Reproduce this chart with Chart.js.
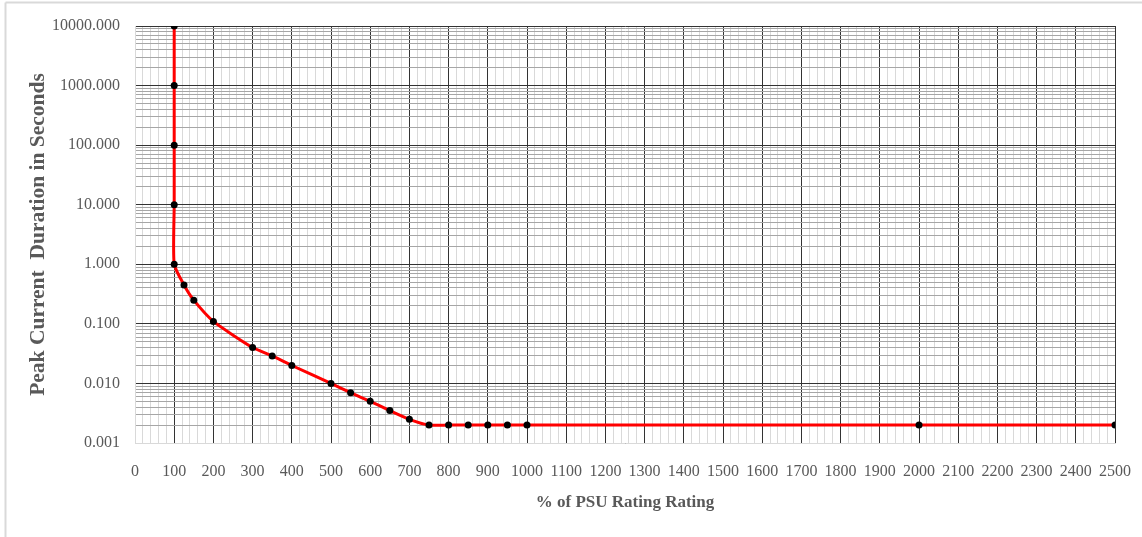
<!DOCTYPE html>
<html>
<head>
<meta charset="utf-8">
<title>Peak Current Duration</title>
<script src="https://cdn.jsdelivr.net/npm/chart.js@4"></script>
<style>
    html, body { margin: 0; padding: 0; background: #fff; overflow: hidden; }
    #wrap { width: 1142px; height: 537px; position: relative; }
</style>
</head>
<body>
<div id="wrap"><canvas id="curveChart"></canvas></div>
<script>
// data (x = % of PSU rating, y = seconds)
const psuRating = [100, 100, 100, 100, 100, 125, 150, 200, 300, 350, 400, 500, 550, 600, 650, 700, 750, 800, 850, 900, 950, 1000, 2000, 2500];
const peakDuration = [10000, 1000, 100, 10, 1, 0.45, 0.25, 0.11, 0.04, 0.029, 0.02, 0.01, 0.007, 0.005, 0.0035, 0.0025, 0.002, 0.002, 0.002, 0.002, 0.002, 0.002, 0.002, 0.002];

// labelled ticks
const xMajorTicks = [0, 100, 200, 300, 400, 500, 600, 700, 800, 900, 1000, 1100, 1200, 1300, 1400, 1500, 1600, 1700, 1800, 1900, 2000, 2100, 2200, 2300, 2400, 2500];
const yMajorTicks = [0.001, 0.01, 0.1, 1, 10, 100, 1000, 10000];

// minor grid: 5 steps between x majors, 2..9 inside each log decade
function xGridTicks() {
    const out = [];
    for (let i = 0; i < xMajorTicks.length; i++) {
        out.push({ value: xMajorTicks[i], major: true });
        if (i < xMajorTicks.length - 1) {
            const step = (xMajorTicks[i + 1] - xMajorTicks[i]) / 5;
            for (let k = 1; k < 5; k++) out.push({ value: xMajorTicks[i] + k * step, major: false });
        }
    }
    return out;
}
function yGridTicks() {
    const out = [];
    for (let i = 0; i < yMajorTicks.length; i++) {
        out.push({ value: yMajorTicks[i], major: true });
        if (i < yMajorTicks.length - 1) {
            for (let m = 2; m < 10; m++) out.push({ value: yMajorTicks[i] * m, major: false });
        }
    }
    return out;
}

const textGrey = '#595959';
const serif = "'Liberation Serif', 'Times New Roman', serif";

// wanted plot box in the 1142x537 window
const plotBox = { left: 135, top: 26, right: 1115, bottom: 443 };

// light grey frame around the chart (only top and left are visible)
const framePlugin = {
    id: 'frame',
    beforeDraw(chart) {
        const ctx = chart.ctx;
        ctx.save();
        ctx.strokeStyle = '#d9d9d9';
        ctx.lineWidth = 2;
        ctx.beginPath();
        ctx.moveTo(5.5, 2.5);
        ctx.lineTo(chart.width, 2.5);
        ctx.moveTo(5.5, 2.5);
        ctx.lineTo(5.5, chart.height);
        ctx.stroke();
        ctx.restore();
    }
};

document.addEventListener('DOMContentLoaded', function () {
    const points = psuRating.map((x, i) => ({ x: x, y: peakDuration[i] }));
    const ctx = document.getElementById('curveChart').getContext('2d');

    new Chart(ctx, {
        type: 'line',
        data: {
            datasets: [{
                data: points,
                borderColor: '#ff0000',
                borderWidth: 3,
                tension: 0.2,
                pointRadius: 3.5,
                pointBackgroundColor: '#000',
                pointBorderColor: '#000',
                pointBorderWidth: 0,
                fill: false
            }]
        },
        options: {
            responsive: true,
            maintainAspectRatio: false,
            animation: false,
            layout: { padding: { left: 0, top: plotBox.top, right: 1142 - plotBox.right, bottom: 0 } },
            scales: {
                x: {
                    type: 'linear',
                    min: 0,
                    max: 2500,
                    afterBuildTicks: function (axis) { axis.ticks = xGridTicks(); },
                    afterFit: function (axis) {
                        axis.height = 537 - plotBox.bottom;
                        // label overhang would otherwise push the plot edge in
                        axis.paddingLeft = 0;
                        axis.paddingRight = 0;
                    },
                    grid: {
                        drawTicks: false,
                        color: (c) => (c.tick && c.tick.value % 100 === 0) ? '#333333' : '#d9d9d9',
                        lineWidth: 1
                    },
                    border: { display: true, color: '#d9d9d9', width: 1 },
                    ticks: {
                        autoSkip: false,
                        maxRotation: 0,
                        padding: 19,
                        color: textGrey,
                        font: { family: serif, size: 16 },
                        callback: (v) => (v % 100 === 0 ? String(v) : '')
                    },
                    title: {
                        display: true,
                        text: '% of PSU Rating Rating',
                        color: textGrey,
                        font: { family: serif, size: 17, weight: 'bold' },
                        padding: { top: 0, bottom: 24 }
                    }
                },
                y: {
                    type: 'logarithmic',
                    min: 0.001,
                    max: 10000,
                    afterBuildTicks: function (axis) { axis.ticks = yGridTicks(); },
                    afterFit: function (axis) { axis.width = plotBox.left; },
                    grid: {
                        drawTicks: false,
                        color: (c) => (c.tick && c.tick.major) ? '#333333' : '#a6a6a6',
                        lineWidth: 1
                    },
                    border: { display: true, color: '#d9d9d9', width: 1 },
                    ticks: {
                        autoSkip: false,
                        padding: 15,
                        color: textGrey,
                        font: { family: serif, size: 16 },
                        callback: function (v) {
                            const e = Math.log10(v);
                            return Math.abs(e - Math.round(e)) < 1e-9 ? Number(v).toFixed(3) : '';
                        }
                    },
                    title: {
                        display: true,
                        text: 'Peak Current  Duration in Seconds',
                        color: textGrey,
                        font: { family: serif, size: 21.5, weight: 'bold' },
                        padding: { top: 26, bottom: 0 }
                    }
                }
            },
            plugins: {
                legend: { display: false },
                tooltip: { enabled: false }
            }
        },
        plugins: [framePlugin]
    });
});
</script>
</body>
</html>
